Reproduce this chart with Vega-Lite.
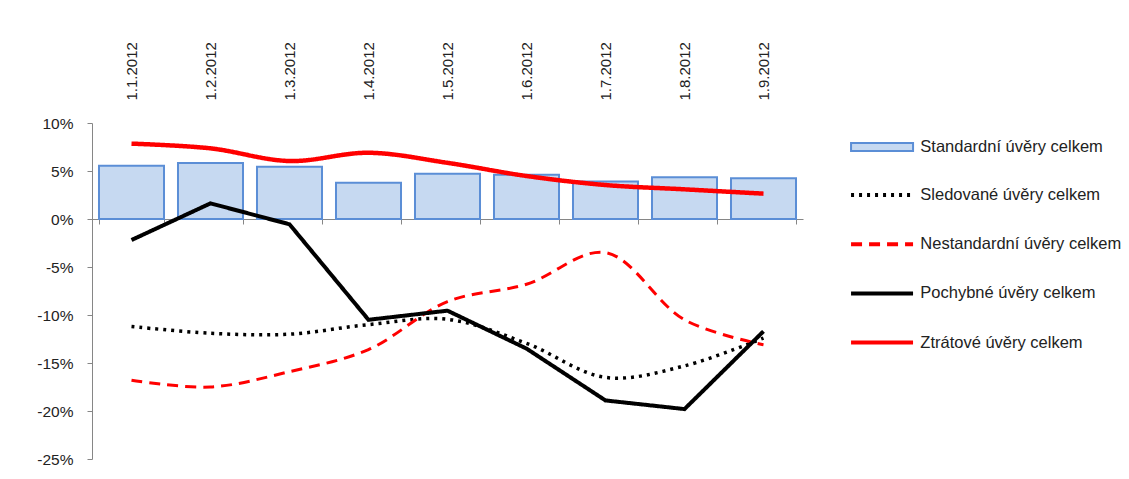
{
  "$schema": "https://vega.github.io/schema/vega-lite/v6.json",
  "width": 711,
  "height": 336,
  "autosize": {"type": "none"},
  "padding": {"left": 92, "top": 123, "right": 326, "bottom": 20},
  "background": "white",
  "config": {
    "view": {"stroke": null},
    "font": "Liberation Sans",
    "axis": {"labelColor": "#222222", "labelFont": "Liberation Sans", "domainColor": "#868686", "tickColor": "#868686", "grid": false, "title": null},
    "legend": {"labelFont": "Liberation Sans", "labelColor": "#222222", "labelLimit": 0}
  },
  "data": {
    "values": [
      {"d": "1.1.2012", "s": "Standardní úvěry celkem", "v": 5.55},
      {"d": "1.2.2012", "s": "Standardní úvěry celkem", "v": 5.83},
      {"d": "1.3.2012", "s": "Standardní úvěry celkem", "v": 5.45},
      {"d": "1.4.2012", "s": "Standardní úvěry celkem", "v": 3.78},
      {"d": "1.5.2012", "s": "Standardní úvěry celkem", "v": 4.72},
      {"d": "1.6.2012", "s": "Standardní úvěry celkem", "v": 4.6},
      {"d": "1.7.2012", "s": "Standardní úvěry celkem", "v": 3.9},
      {"d": "1.8.2012", "s": "Standardní úvěry celkem", "v": 4.34},
      {"d": "1.9.2012", "s": "Standardní úvěry celkem", "v": 4.24},
      {"d": "1.1.2012", "s": "Sledované úvěry celkem", "v": -11.2},
      {"d": "1.2.2012", "s": "Sledované úvěry celkem", "v": -11.9},
      {"d": "1.3.2012", "s": "Sledované úvěry celkem", "v": -12.0},
      {"d": "1.4.2012", "s": "Sledované úvěry celkem", "v": -11.0},
      {"d": "1.5.2012", "s": "Sledované úvěry celkem", "v": -10.45},
      {"d": "1.6.2012", "s": "Sledované úvěry celkem", "v": -12.95},
      {"d": "1.7.2012", "s": "Sledované úvěry celkem", "v": -16.5},
      {"d": "1.8.2012", "s": "Sledované úvěry celkem", "v": -15.3},
      {"d": "1.9.2012", "s": "Sledované úvěry celkem", "v": -12.4},
      {"d": "1.1.2012", "s": "Nestandardní úvěry celkem", "v": -16.8},
      {"d": "1.2.2012", "s": "Nestandardní úvěry celkem", "v": -17.5},
      {"d": "1.3.2012", "s": "Nestandardní úvěry celkem", "v": -15.9},
      {"d": "1.4.2012", "s": "Nestandardní úvěry celkem", "v": -13.6},
      {"d": "1.5.2012", "s": "Nestandardní úvěry celkem", "v": -8.6},
      {"d": "1.6.2012", "s": "Nestandardní úvěry celkem", "v": -6.8},
      {"d": "1.7.2012", "s": "Nestandardní úvěry celkem", "v": -3.5},
      {"d": "1.8.2012", "s": "Nestandardní úvěry celkem", "v": -10.5},
      {"d": "1.9.2012", "s": "Nestandardní úvěry celkem", "v": -13.1},
      {"d": "1.1.2012", "s": "Pochybné úvěry celkem", "v": -2.19},
      {"d": "1.2.2012", "s": "Pochybné úvěry celkem", "v": 1.63},
      {"d": "1.3.2012", "s": "Pochybné úvěry celkem", "v": -0.55},
      {"d": "1.4.2012", "s": "Pochybné úvěry celkem", "v": -10.5},
      {"d": "1.5.2012", "s": "Pochybné úvěry celkem", "v": -9.55},
      {"d": "1.6.2012", "s": "Pochybné úvěry celkem", "v": -13.5},
      {"d": "1.7.2012", "s": "Pochybné úvěry celkem", "v": -18.9},
      {"d": "1.8.2012", "s": "Pochybné úvěry celkem", "v": -19.8},
      {"d": "1.9.2012", "s": "Pochybné úvěry celkem", "v": -11.7},
      {"d": "1.1.2012", "s": "Ztrátové úvěry celkem", "v": 7.85},
      {"d": "1.2.2012", "s": "Ztrátové úvěry celkem", "v": 7.36},
      {"d": "1.3.2012", "s": "Ztrátové úvěry celkem", "v": 6.04},
      {"d": "1.4.2012", "s": "Ztrátové úvěry celkem", "v": 6.9},
      {"d": "1.5.2012", "s": "Ztrátové úvěry celkem", "v": 5.85},
      {"d": "1.6.2012", "s": "Ztrátové úvěry celkem", "v": 4.48},
      {"d": "1.7.2012", "s": "Ztrátové úvěry celkem", "v": 3.54},
      {"d": "1.8.2012", "s": "Ztrátové úvěry celkem", "v": 3.09},
      {"d": "1.9.2012", "s": "Ztrátové úvěry celkem", "v": 2.64}
    ]
  },
  "encoding": {
    "y": {
      "field": "v", "type": "quantitative", "title": null,
      "scale": {"domain": [-25, 10], "nice": false, "zero": false},
      "axis": {"values": [-25, -20, -15, -10, -5, 0, 5, 10], "labelExpr": "datum.value + '%'", "tickSize": 5, "labelPadding": 14, "labelFontSize": 15.5}
    }
  },
  "layer": [
    {
      "transform": [{"filter": "datum.s == 'Standardní úvěry celkem'"}],
      "mark": {"type": "bar", "stroke": "#5B8ED6", "strokeWidth": 2},
      "encoding": {
        "x": {
          "field": "d", "type": "nominal", "sort": null,
          "scale": {"domain": ["1.1.2012", "1.2.2012", "1.3.2012", "1.4.2012", "1.5.2012", "1.6.2012", "1.7.2012", "1.8.2012", "1.9.2012"], "paddingInner": 0.177, "paddingOuter": 0.0885},
          "axis": {"orient": "bottom", "offset": -240, "labels": false, "domain": true, "ticks": true, "tickBand": "extent", "tickSize": 5, "title": null}
        },
        "y": {"field": "v", "type": "quantitative", "stack": null},
        "fill": {
          "field": "s", "type": "nominal",
          "scale": {"domain": ["Standardní úvěry celkem"], "range": ["#C6D9F1"]},
          "legend": {"orient": "none", "legendX": 781.8, "legendY": 15.75, "title": null, "padding": 0, "symbolType": "M-6,-0.77H6V0.77H-6Z", "symbolSize": 106.8, "symbolStrokeColor": "#5B8ED6", "symbolStrokeWidth": 2, "labelOffset": 30, "labelFontSize": 16.5}
        }
      }
    },
    {
      "transform": [{"filter": "datum.s == 'Sledované úvěry celkem'"}],
      "mark": {"type": "line", "interpolate": "catmull-rom", "strokeWidth": 3.5},
      "encoding": {
        "x": {
          "field": "d", "type": "nominal", "sort": null,
          "axis": {"orient": "top", "labelAngle": -90, "labelBaseline": "middle", "labelAlign": "left", "domain": false, "ticks": false, "tickSize": 0, "labelPadding": 23, "labelFontSize": 15, "title": null}
        },
        "stroke": {
          "field": "s", "type": "nominal",
          "scale": {"domain": ["Sledované úvěry celkem", "Nestandardní úvěry celkem", "Pochybné úvěry celkem", "Ztrátové úvěry celkem"], "range": ["#000000", "#FF0000", "#000000", "#FF0000"]},
          "legend": {"orient": "none", "legendX": 781.8, "legendY": 63.75, "title": null, "padding": 0, "symbolType": "M-6,0H6", "symbolSize": 106.8, "symbolStrokeWidth": 4, "labelOffset": 30, "rowPadding": 32.2, "labelFontSize": 16.5}
        },
        "strokeDash": {
          "field": "s", "type": "nominal",
          "scale": {"domain": ["Sledované úvěry celkem", "Nestandardní úvěry celkem", "Pochybné úvěry celkem", "Ztrátové úvěry celkem"], "range": [[3, 5], [11, 7], [1, 0], [1, 0]]},
          "legend": {"orient": "none", "legendX": 781.8, "legendY": 63.75, "title": null, "padding": 0, "symbolType": "M-6,0H6", "symbolSize": 106.8, "symbolStrokeWidth": 4, "labelOffset": 30, "rowPadding": 32.2, "labelFontSize": 16.5}
        }
      }
    },
    {
      "transform": [{"filter": "datum.s == 'Nestandardní úvěry celkem'"}],
      "mark": {"type": "line", "interpolate": "catmull-rom", "strokeWidth": 3},
      "encoding": {
        "x": {"field": "d", "type": "nominal", "sort": null, "axis": null},
        "stroke": {"field": "s", "type": "nominal"},
        "strokeDash": {"field": "s", "type": "nominal"}
      }
    },
    {
      "transform": [{"filter": "datum.s == 'Pochybné úvěry celkem'"}],
      "mark": {"type": "line", "interpolate": "linear", "strokeWidth": 4},
      "encoding": {
        "x": {"field": "d", "type": "nominal", "sort": null, "axis": null},
        "stroke": {"field": "s", "type": "nominal"},
        "strokeDash": {"field": "s", "type": "nominal"}
      }
    },
    {
      "transform": [{"filter": "datum.s == 'Ztrátové úvěry celkem'"}],
      "mark": {"type": "line", "interpolate": "catmull-rom", "strokeWidth": 4.5},
      "encoding": {
        "x": {"field": "d", "type": "nominal", "sort": null, "axis": null},
        "stroke": {"field": "s", "type": "nominal"},
        "strokeDash": {"field": "s", "type": "nominal"}
      }
    }
  ],
  "resolve": {"axis": {"x": "independent"}}
}
